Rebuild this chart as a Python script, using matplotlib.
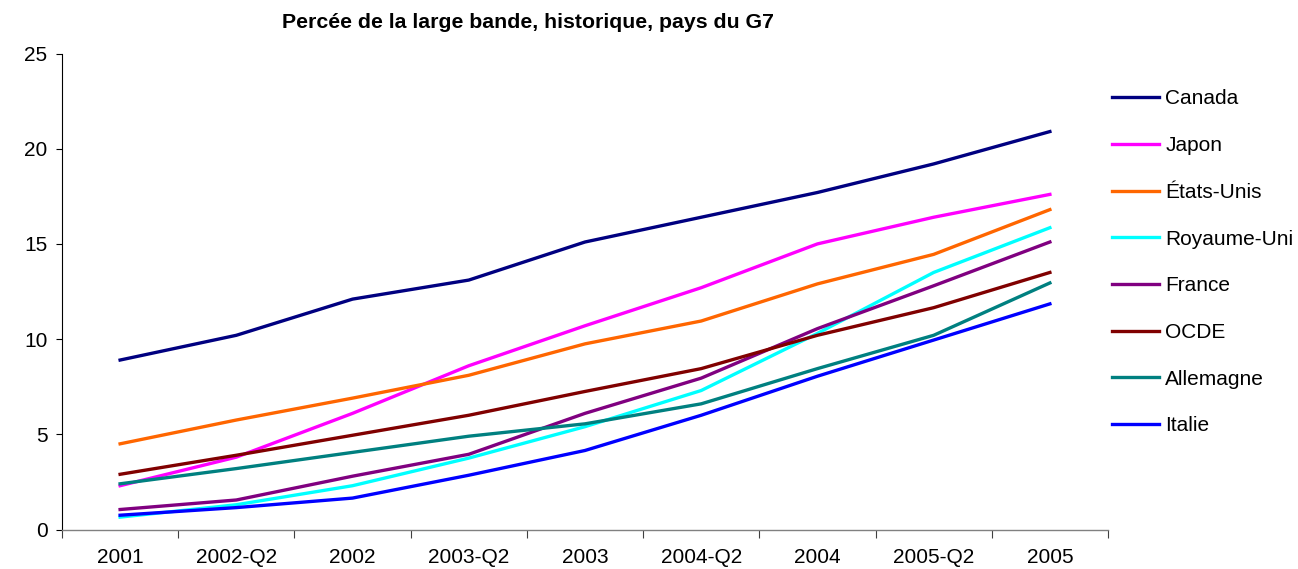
import matplotlib
matplotlib.use("Agg")
import matplotlib.pyplot as plt

plt.rcParams['font.family'] = ['Liberation Sans', 'DejaVu Sans']

periods = ["2001", "2002-Q2", "2002", "2003-Q2", "2003", "2004-Q2", "2004", "2005-Q2", "2005"]

canada = [8.9, 10.2, 12.1, 13.1, 15.1, 16.4, 17.7, 19.2, 20.9]
japon = [2.3, 3.8, 6.1, 8.6, 10.7, 12.7, 15.0, 16.4, 17.6]
etats_unis = [4.5, 5.75, 6.9, 8.1, 9.75, 10.95, 12.9, 14.45, 16.8]
royaume_uni = [0.65, 1.3, 2.3, 3.75, 5.4, 7.3, 10.3, 13.5, 15.85]
france = [1.05, 1.55, 2.8, 3.95, 6.1, 7.95, 10.55, 12.8, 15.1]
ocde = [2.9, 3.9, 4.95, 6.0, 7.25, 8.45, 10.2, 11.65, 13.5]
allemagne = [2.4, 3.2, 4.05, 4.9, 5.55, 6.6, 8.45, 10.2, 12.95]
italie = [0.75, 1.15, 1.65, 2.85, 4.15, 6.0, 8.05, 9.95, 11.85]

series = [
    ("Canada", canada, "#000080"),
    ("Japon", japon, "#FF00FF"),
    ("États-Unis", etats_unis, "#FF6600"),
    ("Royaume-Uni", royaume_uni, "#00FFFF"),
    ("France", france, "#800080"),
    ("OCDE", ocde, "#800000"),
    ("Allemagne", allemagne, "#008080"),
    ("Italie", italie, "#0000FF"),
]

fig = plt.figure(figsize=(12.98, 5.69), dpi=100)
ax = fig.add_axes([62/1298, 1 - 529.5/569, (1108-62)/1298, (529.5-53.5)/569])

x = list(range(len(periods)))
handles = []
for name, vals, col in series:
    ln, = ax.plot(x, vals, color=col, lw=2.4, label=name, solid_joinstyle='round')
    handles.append(ln)

ax.set_xlim(-0.5, len(periods) - 0.5)
ax.set_ylim(0, 25)
ax.set_yticks([0, 5, 10, 15, 20, 25])
ax.set_xticks([i - 0.5 for i in range(len(periods) + 1)])
ax.set_xticklabels([])
ax.set_xticks(x, minor=True)
ax.set_xticklabels(periods, minor=True)
ax.tick_params(axis='x', which='minor', length=0, pad=13.5, labelsize=15)
ax.tick_params(axis='x', which='major', length=6, direction='out', width=0.8, color='#404040')
ax.tick_params(axis='y', length=4.5, direction='out', width=0.8, labelsize=15, pad=6)
for s in ['top', 'right']:
    ax.spines[s].set_visible(False)
ax.spines['left'].set_color('#000000')
ax.spines['bottom'].set_color('#808080')
ax.spines['left'].set_linewidth(0.8)
ax.spines['bottom'].set_linewidth(1.0)

fig.text(528/1298, 1 - 22/569, "Percée de la large bande, historique, pays du G7",
         ha='center', va='center', fontsize=15.3, fontweight='bold')

fig.legend(handles=handles, loc='upper left', bbox_to_anchor=(1112/1298, 1 - 89.5/569),
           frameon=False, fontsize=15, handlelength=2.25, handletextpad=0.3,
           labelspacing=1.33, borderaxespad=0, borderpad=0)

fig.savefig("out.png", dpi=100)
